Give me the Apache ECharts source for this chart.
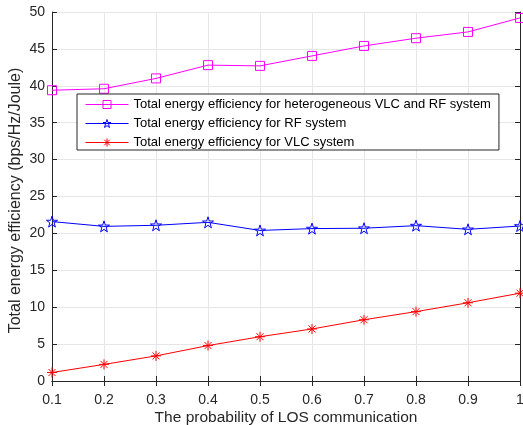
<!DOCTYPE html>
<html>
<head>
<meta charset="utf-8">
<script src="https://cdn.jsdelivr.net/npm/echarts@6/dist/echarts.min.js"></script>
<style>
html,body{margin:0;padding:0;background:#fff;}
#main{width:523px;height:425px;}
</style>
</head>
<body>
<div id="main"></div>
<script>
// 数据
var xLabels = ['0.1','0.2','0.3','0.4','0.5','0.6','0.7','0.8','0.9','1'];
var hetData = [39.4, 39.6, 41.0, 42.8, 42.7, 44.05, 45.4, 46.45, 47.3, 49.2];
var rfData  = [21.6, 20.95, 21.1, 21.5, 20.4, 20.65, 20.7, 21.05, 20.55, 21.0];
var vlcData = [1.15, 2.25, 3.4, 4.8, 6.0, 7.05, 8.3, 9.4, 10.6, 11.9];
var seriesNames = [
	'Total energy efficiency for heterogeneous VLC and RF system',
	'Total energy efficiency for RF system',
	'Total energy efficiency for VLC system'
];
var seriesColors = ['#ff00ff', '#0000ff', '#ff0000'];

var axisColor = '#262626';
var font = 'Liberation Sans, Arial, sans-serif';

// 五角星路径
function starPath(){
	var pts = [];
	for (var i = 0; i < 10; i++) {
		var r = (i % 2 == 0) ? 10 : 3.9;
		var a = -Math.PI / 2 + i * Math.PI / 5;
		pts.push((10 + r * Math.cos(a)).toFixed(2) + ',' + (10 + r * Math.sin(a)).toFixed(2));
	}
	return 'path://M' + pts.join(' L') + ' Z';
}
var squarePath = 'path://M0,0 L10,0 L10,10 L0,10 Z';
var asteriskPath = 'path://M0,5 L10,5 M5,0 L5,10 M1.5,1.5 L8.5,8.5 M8.5,1.5 L1.5,8.5';

function makeSeries(i, data, symbol, size){
	return {
		name: seriesNames[i],
		type: 'line',
		data: data,
		symbol: symbol,
		symbolSize: size,
		showAllSymbol: true,
		itemStyle: { color: 'rgba(0,0,0,0)', borderColor: seriesColors[i], borderWidth: 1 },
		lineStyle: { color: seriesColors[i], width: 1 }
	};
}

var chart = echarts.init(document.getElementById('main'));
var option = {
	backgroundColor: '#fff',
	animation: false,
	grid: { left: 52, right: 3, top: 12, bottom: 44, outerBoundsMode: 'none', containLabel: false },
	legend: {
		orient: 'vertical',
		left: 77, top: 94,
		padding: [4, 8, 1, 8],
		itemGap: 6,
		itemWidth: 43,
		itemHeight: 10,
		borderColor: axisColor,
		borderWidth: 1,
		backgroundColor: '#fff',
		textStyle: { fontFamily: font, fontSize: 13, color: '#000' },
		data: seriesNames.map(function(n, i){
			return {
				name: n,
				itemStyle: { color: 'rgba(0,0,0,0)', borderColor: seriesColors[i], borderWidth: 1 },
				lineStyle: { color: seriesColors[i], width: 1 }
			};
		})
	},
	xAxis: [{
		type: 'category',
		data: xLabels,
		boundaryGap: false,
		name: 'The probability of LOS communication',
		nameLocation: 'middle',
		nameGap: 29,
		nameMoveOverlap: false,
		nameTextStyle: { fontFamily: font, fontSize: 15.5, color: axisColor },
		axisLine: { lineStyle: { color: axisColor } },
		axisTick: { inside: true, length: 5, lineStyle: { color: axisColor } },
		axisLabel: { fontFamily: font, fontSize: 14, color: axisColor, margin: 12 },
		splitLine: { show: true, lineStyle: { color: '#e6e6e6' } }
	}, {
		type: 'category',
		data: xLabels,
		boundaryGap: false,
		position: 'top',
		axisLine: { lineStyle: { color: axisColor } },
		axisTick: { inside: true, length: 5, lineStyle: { color: axisColor } },
		axisLabel: { show: false },
		splitLine: { show: false }
	}],
	yAxis: [{
		type: 'value',
		min: 0, max: 50, interval: 5,
		name: 'Total energy efficiency (bps/Hz/Joule)',
		nameLocation: 'middle',
		nameGap: 28,
		nameMoveOverlap: false,
		nameTextStyle: { fontFamily: font, fontSize: 16, color: axisColor, padding: [0, 8, 0, 0] },
		axisLine: { show: true, lineStyle: { color: axisColor } },
		axisTick: { show: true, inside: true, length: 5, lineStyle: { color: axisColor } },
		axisLabel: { fontFamily: font, fontSize: 14, color: axisColor, margin: 7 },
		splitLine: { show: true, lineStyle: { color: '#e6e6e6' } }
	}, {
		type: 'value',
		min: 0, max: 50, interval: 5,
		position: 'right',
		axisLine: { show: true, lineStyle: { color: axisColor } },
		axisTick: { show: true, inside: true, length: 5, lineStyle: { color: axisColor } },
		axisLabel: { show: false },
		splitLine: { show: false }
	}],
	series: [
		makeSeries(0, hetData, squarePath, 9),
		makeSeries(1, rfData, starPath(), 11),
		makeSeries(2, vlcData, asteriskPath, 10)
	]
};
chart.setOption(option);
</script>
</body>
</html>
